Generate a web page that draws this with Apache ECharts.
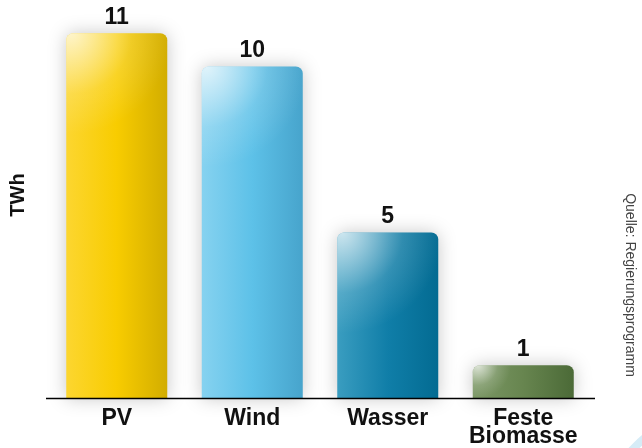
<!DOCTYPE html>
<html><head><meta charset="utf-8">
<script src="https://cdn.jsdelivr.net/npm/echarts@6/dist/echarts.min.js"></script>
<style>html,body{margin:0;padding:0;background:#fff}#c{width:642px;height:448px}</style>
</head><body><div id="c"></div>
<script>
const categories = ['PV', 'Wind', 'Wasser', 'Feste\nBiomasse'];
const values = [11, 10, 5, 1];
const axisName = 'TWh';
const sourceText = 'Quelle: Regierungsprogramm';
const palette = [
  ['#fcd630', '#f8cc00', '#d2ad00'],
  ['#86d2f0', '#5dc1e8', '#47a4cc'],
  ['#3a9dc0', '#107ea8', '#036b92'],
  ['#7c9866', '#67854f', '#4b6a37']
];
const FONT = '"Liberation Sans", Arial, Helvetica, sans-serif';
function grad(c) {
  return new echarts.graphic.LinearGradient(0, 0, 1, 0, [
    {offset: 0, color: c[0]}, {offset: 0.5, color: c[1]}, {offset: 1, color: c[2]}
  ]);
}
const highlight = new echarts.graphic.RadialGradient(0.05, 0, 1.0, [
  {offset: 0, color: 'rgba(255,255,255,0.75)'},
  {offset: 0.6, color: 'rgba(255,255,255,0.15)'},
  {offset: 1, color: 'rgba(255,255,255,0)'}
]);
const chart = echarts.init(document.getElementById('c'), null, {renderer: 'canvas'});
chart.setOption({
  animation: false,
  grid: {left: 49, right: 51, top: 0, bottom: 48},
  xAxis: {
    type: 'category', data: categories,
    axisLine: {show: false},
    axisTick: {show: false},
    axisLabel: {color: '#111', fontFamily: FONT, fontWeight: 'bold', fontSize: 23, lineHeight: 18, margin: 11, interval: 0}
  },
  yAxis: {
    type: 'value', min: 0, max: 12,
    axisLine: {show: false}, axisTick: {show: false}, axisLabel: {show: false}, splitLine: {show: false}
  },
  series: [{
    type: 'bar', barWidth: 101,
    data: values.map((v, i) => ({value: v, itemStyle: {color: grad(palette[i])}})),
    itemStyle: {borderRadius: [7, 7, 0, 0], shadowBlur: 18, shadowColor: 'rgba(0,0,0,0.22)'},
    label: {show: true, position: 'top', distance: 4, color: '#111', fontFamily: FONT, fontWeight: 'bold', fontSize: 23}
  }, {
    type: 'bar', barWidth: 101, barGap: '-100%', silent: true,
    data: values,
    itemStyle: {borderRadius: [7, 7, 0, 0], color: highlight},
    label: {show: false}
  }]
});
const y0 = chart.convertToPixel({yAxisIndex: 0}, 0);
chart.setOption({
  graphic: [{
    type: 'line', shape: {x1: 46, y1: y0, x2: 595, y2: y0},
    style: {stroke: '#000', lineWidth: 1.5}, z: 10
  }, {
    type: 'text', x: 18, y: 195, rotation: Math.PI / 2,
    style: {text: axisName, fill: '#111', font: 'bold 20px ' + FONT, align: 'center', verticalAlign: 'middle'}
  }, {
    type: 'text', x: 630, y: 285, rotation: -Math.PI / 2,
    style: {text: sourceText, fill: '#444', font: '14px ' + FONT, align: 'center', verticalAlign: 'middle'}
  }, {
    type: 'circle', shape: {cx: 735, cy: 545, r: 140},
    style: {fill: 'none', stroke: '#d6ecf7', lineWidth: 8}, silent: true
  }]
});
</script></body></html>
